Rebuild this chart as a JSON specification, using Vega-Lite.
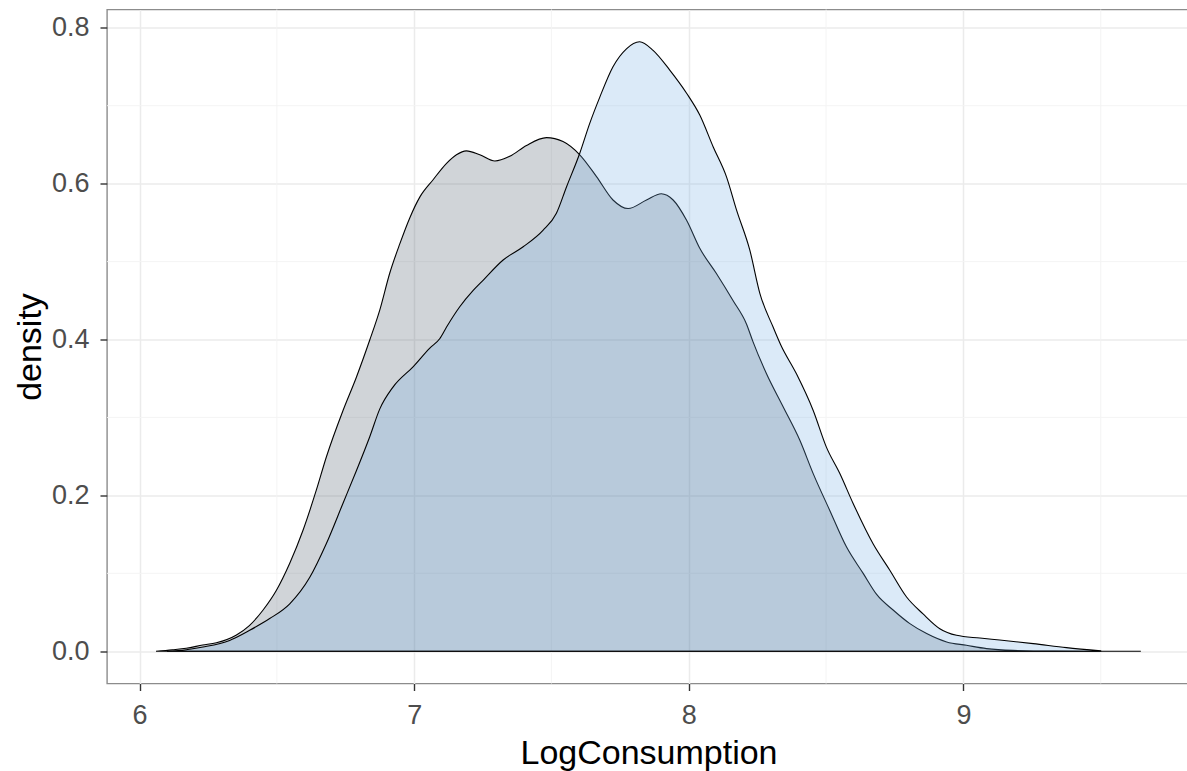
{
  "$schema": "https://vega.github.io/schema/vega-lite/v6.json",
  "width": 1083,
  "height": 674,
  "autosize": {"type": "none"},
  "padding": {"left": 107, "top": 9.5, "right": 0, "bottom": 88},
  "background": "#ffffff",
  "datasets": {
    "curves": [
      {"group": "A", "LogConsumption": 6.06, "density": 0},
      {"group": "A", "LogConsumption": 6.12, "density": 0.002},
      {"group": "A", "LogConsumption": 6.17, "density": 0.004},
      {"group": "A", "LogConsumption": 6.23, "density": 0.008},
      {"group": "A", "LogConsumption": 6.28, "density": 0.011},
      {"group": "A", "LogConsumption": 6.353, "density": 0.021},
      {"group": "A", "LogConsumption": 6.4, "density": 0.033},
      {"group": "A", "LogConsumption": 6.45, "density": 0.053},
      {"group": "A", "LogConsumption": 6.498, "density": 0.078},
      {"group": "A", "LogConsumption": 6.547, "density": 0.113},
      {"group": "A", "LogConsumption": 6.595, "density": 0.155},
      {"group": "A", "LogConsumption": 6.644, "density": 0.207},
      {"group": "A", "LogConsumption": 6.68, "density": 0.249},
      {"group": "A", "LogConsumption": 6.741, "density": 0.309},
      {"group": "A", "LogConsumption": 6.79, "density": 0.352},
      {"group": "A", "LogConsumption": 6.838, "density": 0.399},
      {"group": "A", "LogConsumption": 6.875, "density": 0.438},
      {"group": "A", "LogConsumption": 6.911, "density": 0.485},
      {"group": "A", "LogConsumption": 6.948, "density": 0.523},
      {"group": "A", "LogConsumption": 6.984, "density": 0.556},
      {"group": "A", "LogConsumption": 7.021, "density": 0.583},
      {"group": "A", "LogConsumption": 7.069, "density": 0.605},
      {"group": "A", "LogConsumption": 7.118, "density": 0.626},
      {"group": "A", "LogConsumption": 7.154, "density": 0.637},
      {"group": "A", "LogConsumption": 7.19, "density": 0.642},
      {"group": "A", "LogConsumption": 7.239, "density": 0.637},
      {"group": "A", "LogConsumption": 7.294, "density": 0.629},
      {"group": "A", "LogConsumption": 7.348, "density": 0.635},
      {"group": "A", "LogConsumption": 7.409, "density": 0.649},
      {"group": "A", "LogConsumption": 7.482, "density": 0.659},
      {"group": "A", "LogConsumption": 7.542, "density": 0.654},
      {"group": "A", "LogConsumption": 7.603, "density": 0.637},
      {"group": "A", "LogConsumption": 7.664, "density": 0.609},
      {"group": "A", "LogConsumption": 7.724, "density": 0.579},
      {"group": "A", "LogConsumption": 7.779, "density": 0.568},
      {"group": "A", "LogConsumption": 7.846, "density": 0.579},
      {"group": "A", "LogConsumption": 7.9, "density": 0.587},
      {"group": "A", "LogConsumption": 7.943, "density": 0.579},
      {"group": "A", "LogConsumption": 7.992, "density": 0.553},
      {"group": "A", "LogConsumption": 8.04, "density": 0.517},
      {"group": "A", "LogConsumption": 8.1, "density": 0.485},
      {"group": "A", "LogConsumption": 8.161, "density": 0.45},
      {"group": "A", "LogConsumption": 8.21, "density": 0.42},
      {"group": "A", "LogConsumption": 8.234, "density": 0.397},
      {"group": "A", "LogConsumption": 8.283, "density": 0.356},
      {"group": "A", "LogConsumption": 8.343, "density": 0.314},
      {"group": "A", "LogConsumption": 8.404, "density": 0.271},
      {"group": "A", "LogConsumption": 8.453, "density": 0.228},
      {"group": "A", "LogConsumption": 8.513, "density": 0.181},
      {"group": "A", "LogConsumption": 8.574, "density": 0.134},
      {"group": "A", "LogConsumption": 8.635, "density": 0.1},
      {"group": "A", "LogConsumption": 8.684, "density": 0.073},
      {"group": "A", "LogConsumption": 8.744, "density": 0.053},
      {"group": "A", "LogConsumption": 8.805, "density": 0.0355},
      {"group": "A", "LogConsumption": 8.866, "density": 0.0227},
      {"group": "A", "LogConsumption": 8.939, "density": 0.012},
      {"group": "A", "LogConsumption": 9.011, "density": 0.0077},
      {"group": "A", "LogConsumption": 9.084, "density": 0.0035},
      {"group": "A", "LogConsumption": 9.18, "density": 0.0012},
      {"group": "A", "LogConsumption": 9.33, "density": 0.0003},
      {"group": "A", "LogConsumption": 9.646, "density": 0},
      {"group": "B", "LogConsumption": 6.1, "density": 0},
      {"group": "B", "LogConsumption": 6.17, "density": 0.002},
      {"group": "B", "LogConsumption": 6.231, "density": 0.0055},
      {"group": "B", "LogConsumption": 6.328, "density": 0.014},
      {"group": "B", "LogConsumption": 6.401, "density": 0.027},
      {"group": "B", "LogConsumption": 6.474, "density": 0.042},
      {"group": "B", "LogConsumption": 6.547, "density": 0.061},
      {"group": "B", "LogConsumption": 6.62, "density": 0.095},
      {"group": "B", "LogConsumption": 6.68, "density": 0.138},
      {"group": "B", "LogConsumption": 6.741, "density": 0.19},
      {"group": "B", "LogConsumption": 6.79, "density": 0.232},
      {"group": "B", "LogConsumption": 6.838, "density": 0.275},
      {"group": "B", "LogConsumption": 6.875, "density": 0.311},
      {"group": "B", "LogConsumption": 6.923, "density": 0.339},
      {"group": "B", "LogConsumption": 6.996, "density": 0.365},
      {"group": "B", "LogConsumption": 7.057, "density": 0.389},
      {"group": "B", "LogConsumption": 7.093, "density": 0.401},
      {"group": "B", "LogConsumption": 7.118, "density": 0.416},
      {"group": "B", "LogConsumption": 7.166, "density": 0.442},
      {"group": "B", "LogConsumption": 7.215, "density": 0.463},
      {"group": "B", "LogConsumption": 7.251, "density": 0.476},
      {"group": "B", "LogConsumption": 7.324, "density": 0.502},
      {"group": "B", "LogConsumption": 7.397, "density": 0.519},
      {"group": "B", "LogConsumption": 7.469, "density": 0.54},
      {"group": "B", "LogConsumption": 7.518, "density": 0.562},
      {"group": "B", "LogConsumption": 7.555, "density": 0.596},
      {"group": "B", "LogConsumption": 7.603, "density": 0.639},
      {"group": "B", "LogConsumption": 7.639, "density": 0.677},
      {"group": "B", "LogConsumption": 7.676, "density": 0.711},
      {"group": "B", "LogConsumption": 7.724, "density": 0.75},
      {"group": "B", "LogConsumption": 7.773, "density": 0.773},
      {"group": "B", "LogConsumption": 7.821, "density": 0.782},
      {"group": "B", "LogConsumption": 7.87, "density": 0.771},
      {"group": "B", "LogConsumption": 7.93, "density": 0.746},
      {"group": "B", "LogConsumption": 7.992, "density": 0.716},
      {"group": "B", "LogConsumption": 8.04, "density": 0.688},
      {"group": "B", "LogConsumption": 8.089, "density": 0.647},
      {"group": "B", "LogConsumption": 8.137, "density": 0.609},
      {"group": "B", "LogConsumption": 8.174, "density": 0.566},
      {"group": "B", "LogConsumption": 8.222, "density": 0.515},
      {"group": "B", "LogConsumption": 8.259, "density": 0.459},
      {"group": "B", "LogConsumption": 8.307, "density": 0.416},
      {"group": "B", "LogConsumption": 8.335, "density": 0.393},
      {"group": "B", "LogConsumption": 8.392, "density": 0.356},
      {"group": "B", "LogConsumption": 8.453, "density": 0.309},
      {"group": "B", "LogConsumption": 8.501, "density": 0.262},
      {"group": "B", "LogConsumption": 8.55, "density": 0.228},
      {"group": "B", "LogConsumption": 8.598, "density": 0.19},
      {"group": "B", "LogConsumption": 8.671, "density": 0.138},
      {"group": "B", "LogConsumption": 8.732, "density": 0.104},
      {"group": "B", "LogConsumption": 8.793, "density": 0.0697},
      {"group": "B", "LogConsumption": 8.853, "density": 0.048},
      {"group": "B", "LogConsumption": 8.914, "density": 0.029},
      {"group": "B", "LogConsumption": 8.975, "density": 0.0205},
      {"group": "B", "LogConsumption": 9.06, "density": 0.017},
      {"group": "B", "LogConsumption": 9.132, "density": 0.0145},
      {"group": "B", "LogConsumption": 9.254, "density": 0.0099},
      {"group": "B", "LogConsumption": 9.375, "density": 0.0047},
      {"group": "B", "LogConsumption": 9.5, "density": 0.0005}
    ],
    "minorX": [
      {"LogConsumption": 6.5}, {"LogConsumption": 7.5}, {"LogConsumption": 8.5}, {"LogConsumption": 9.5}
    ],
    "minorY": [
      {"density": 0.1}, {"density": 0.3}, {"density": 0.5}, {"density": 0.7}
    ]
  },
  "layer": [
    {
      "data": {"name": "minorX"},
      "mark": {"type": "rule", "color": "#f3f3f3", "strokeWidth": 0.9},
      "encoding": {
        "x": {"field": "LogConsumption", "type": "quantitative", "scale": {"domain": [5.8816, 9.825], "nice": false, "zero": false}}
      }
    },
    {
      "data": {"name": "minorY"},
      "mark": {"type": "rule", "color": "#f3f3f3", "strokeWidth": 0.9},
      "encoding": {
        "y": {"field": "density", "type": "quantitative", "scale": {"domain": [-0.0413, 0.8234], "nice": false, "zero": false}}
      }
    },
    {
      "data": {"name": "curves"},
      "transform": [{"filter": "datum.group === 'A'"}],
      "mark": {"type": "area", "interpolate": "monotone", "fill": "#435363", "fillOpacity": 0.25, "stroke": "#000000", "strokeWidth": 1.1},
      "encoding": {
        "x": {"field": "LogConsumption", "type": "quantitative", "scale": {"domain": [5.8816, 9.825], "nice": false, "zero": false},
              "axis": {"title": "LogConsumption", "values": [6, 7, 8, 9], "format": "d"}},
        "y": {"field": "density", "type": "quantitative", "scale": {"domain": [-0.0413, 0.8234], "nice": false, "zero": false},
              "axis": {"title": "density", "values": [0, 0.2, 0.4, 0.6, 0.8], "format": ".1f"}},
        "y2": {"datum": 0}
      }
    },
    {
      "data": {"name": "curves"},
      "transform": [{"filter": "datum.group === 'B'"}],
      "mark": {"type": "area", "interpolate": "monotone", "fill": "#6fabe3", "fillOpacity": 0.25, "stroke": "#000000", "strokeWidth": 1.1},
      "encoding": {
        "x": {"field": "LogConsumption", "type": "quantitative", "scale": {"domain": [5.8816, 9.825], "nice": false, "zero": false}},
        "y": {"field": "density", "type": "quantitative", "scale": {"domain": [-0.0413, 0.8234], "nice": false, "zero": false}},
        "y2": {"datum": 0}
      }
    }
  ],
  "config": {
    "font": "Liberation Sans",
    "view": {"stroke": "#8c8c8c", "strokeWidth": 1.4},
    "axis": {
      "domain": false,
      "grid": true,
      "gridColor": "#ebebeb",
      "gridWidth": 1.5,
      "tickColor": "#333333",
      "tickSize": 7,
      "tickWidth": 1.4,
      "labelColor": "#4d4d4d",
      "labelFont": "Liberation Sans",
      "labelFontSize": 27,
      "titleFont": "Liberation Sans",
      "titleFontSize": 34,
      "titleFontWeight": "normal",
      "titleColor": "#000000"
    },
    "axisX": {
      "labelBaseline": "alphabetic",
      "labelPadding": 32.5,
      "titleBaseline": "alphabetic",
      "titleY": 80
    },
    "axisY": {
      "labelPadding": 11,
      "titleBaseline": "alphabetic",
      "titleX": -67,
      "titleY": 337
    }
  }
}
